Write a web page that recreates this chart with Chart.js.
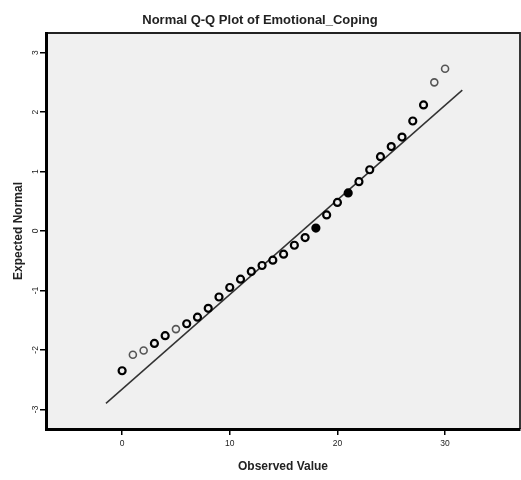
<!DOCTYPE html>
<html>
<head>
<meta charset="utf-8">
<script src="https://cdn.jsdelivr.net/npm/chart.js@4.4.0/dist/chart.umd.min.js"></script>
<style>
  body { margin: 0; background: #fff; }
  #wrap { width: 521px; height: 480px; }
</style>
</head>
<body>
<div id="wrap"><canvas id="myChart" width="521" height="480"></canvas></div>
<script>
'use strict';
// observed scores and their expected normal values
const observed = [0, 1, 2, 3, 4, 5, 6, 7, 8, 9, 10, 11, 12, 13, 14, 15,
  16, 17, 18, 19, 20, 21, 22, 23, 24, 25, 26, 27, 28, 29, 30];
const expected = [-2.35, -2.08, -2.01, -1.89, -1.76, -1.65, -1.56, -1.45, -1.30, -1.11,
  -0.95, -0.81, -0.68, -0.58, -0.49, -0.39, -0.24, -0.11, 0.05, 0.27,
  0.48, 0.64, 0.83, 1.03, 1.25, 1.42, 1.58, 1.85, 2.12, 2.50, 2.73];
// reference line, read at both ends
const lineX = [-1.5, 31.6];
const lineY = [-2.9, 2.37];
// tick labels
const xTicks = [0, 10, 20, 30];
const yTicks = [-3, -2, -1, 0, 1, 2, 3];

// markers that look darker / lighter in the original (overlapping symbols)
const solidAt = [18, 21];
const greyAt = [1, 2, 5, 29, 30];

const FONT = 'Liberation Sans, Arial, sans-serif';

const points = observed.map((v, i) => ({ x: v, y: expected[i] }));
const refLine = lineX.map((v, i) => ({ x: v, y: lineY[i] }));

//plot background and thin frame
const plotFrame = {
  id: 'plotFrame',
  beforeDraw(chart) {
    const { ctx, chartArea: a } = chart;
    ctx.save();
    ctx.fillStyle = '#f0f0f0';
    ctx.fillRect(a.left, a.top, a.right - a.left, a.bottom - a.top);
    ctx.strokeStyle = '#222';
    ctx.lineWidth = 1.8;
    ctx.beginPath();
    ctx.moveTo(a.left, a.top);
    ctx.lineTo(a.right, a.top);
    ctx.lineTo(a.right, a.bottom);
    ctx.stroke();
    ctx.restore();
  },
};

const config = {
  type: 'scatter',
  data: {
    datasets: [
      {
        label: 'Observed',
        data: points,
        pointRadius: 3.5,
        pointBorderWidth: ctx => (greyAt.includes(ctx.raw ? ctx.raw.x : -1) ? 1.6 : 2.2),
        pointBorderColor: ctx => (greyAt.includes(ctx.raw ? ctx.raw.x : -1) ? '#555' : '#000'),
        pointBackgroundColor: ctx => (solidAt.includes(ctx.raw ? ctx.raw.x : -1) ? '#000' : '#f0f0f0'),
      },
      {
        label: 'Line',
        data: refLine,
        showLine: true,
        pointRadius: 0,
        borderColor: '#333',
        borderWidth: 1.5,
      },
    ],
  },
  plugins: [plotFrame],
  options: {
    responsive: false,
    animation: false,
    layout: { autoPadding: false, padding: { top: 0, right: 1, bottom: 0, left: 0 } },
    plugins: {
      legend: { display: false },
      tooltip: { enabled: false },
      title: {
        display: true,
        text: 'Normal Q-Q Plot of Emotional_Coping',
        color: '#222',
        font: { family: FONT, size: 13, weight: 'bold' },
        padding: { top: 12.5, bottom: 4.9 },
      },
    },
    scales: {
      x: {
        type: 'linear',
        min: -7.07,
        max: 36.96,
        afterBuildTicks: s => { s.ticks = xTicks.map(v => ({ value: v })); },
        afterFit: s => { s.height = 51; s.paddingLeft = 0; s.paddingRight = 0; },
        grid: { drawOnChartArea: false, drawTicks: true, tickLength: 6, color: '#000', lineWidth: 1.5 },
        border: { display: true, color: '#000', width: 3 },
        ticks: { padding: 4, color: '#222', autoSkip: false, maxRotation: 0, font: { family: FONT, size: 8.5 } },
        title: {
          display: true,
          text: 'Observed Value',
          color: '#222',
          font: { family: FONT, size: 12, weight: 'bold' },
          padding: { top: 0, bottom: 6.4 },
        },
      },
      y: {
        type: 'linear',
        min: -3.33,
        max: 3.33,
        afterBuildTicks: s => { s.ticks = yTicks.map(v => ({ value: v })); },
        afterFit: s => { s.width = 46; s.paddingTop = 0; s.paddingBottom = 0; },
        grid: { drawOnChartArea: false, drawTicks: true, tickLength: 6, color: '#000', lineWidth: 1.5 },
        border: { display: true, color: '#000', width: 3 },
        ticks: {
          padding: 0.5,
          color: '#222',
          autoSkip: false,
          minRotation: 90,
          maxRotation: 90,
          crossAlign: 'center',
          font: { family: FONT, size: 8.5 },
        },
        title: {
          display: true,
          text: 'Expected Normal',
          color: '#222',
          font: { family: FONT, size: 12, weight: 'bold' },
          padding: { top: 11.4, bottom: 0 },
        },
      },
    },
  },
};

const myChart = new Chart(document.getElementById('myChart'), config);
</script>
</body>
</html>
